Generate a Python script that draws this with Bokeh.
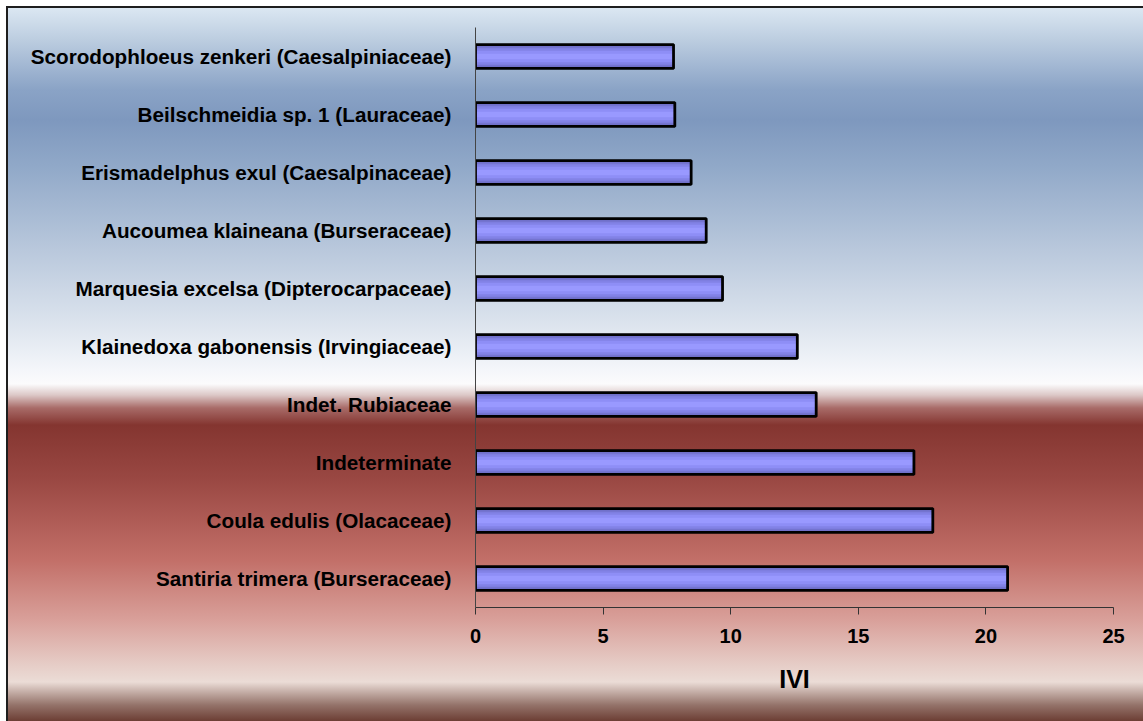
from bokeh.plotting import figure
from bokeh.models import ColumnDataSource, FixedTicker, Range1d, FactorRange
from bokeh.embed import file_html
from bokeh.resources import INLINE

# Importance Value Index (IVI) of the ten leading species
species = [
    "Santiria trimera (Burseraceae)",
    "Coula edulis (Olacaceae)",
    "Indeterminate",
    "Indet. Rubiaceae",
    "Klainedoxa gabonensis (Irvingiaceae)",
    "Marquesia excelsa (Dipterocarpaceae)",
    "Aucoumea klaineana (Burseraceae)",
    "Erismadelphus exul (Caesalpinaceae)",
    "Beilschmeidia sp. 1 (Lauraceae)",
    "Scorodophloeus zenkeri (Caesalpiniaceae)",
]
ivi = [20.85, 17.92, 17.18, 13.35, 12.61, 9.68, 9.04, 8.45, 7.81, 7.76]
x_ticks = [0, 5, 10, 15, 20, 25]
x_max = 25

W, H = 1143, 721
FONT = "Liberation Sans"

src = ColumnDataSource(dict(species=species, ivi=ivi))

# chart area backdrop: frame lines plus the banded blue / white / red fade
def stop(color, y):
    return f"{color} {y - 8}px"

fade = ", ".join([
    stop("#dbe7f2", 8), stop("#bccde0", 40), stop("#8aa3c6", 90),
    stop("#7e98be", 120), stop("#90a8c8", 165), stop("#b9c8dc", 250),
    stop("#dfe6ef", 330), stop("#f4f6fa", 370), stop("#fbfbfc", 384),
    stop("#dcc8c7", 395), stop("#a86b68", 408), stop("#843530", 425),
    stop("#9a4843", 480), stop("#c26f68", 560), stop("#d9a09a", 620),
    stop("#e6cdc7", 665), stop("#ebdcd6", 682), stop("#c8b2ab", 691),
    stop("#94736a", 705), stop("#6c3e34", 721),
])
backdrop = (
    ":host { background: "
    "linear-gradient(#1e1e1e, #1e1e1e) 6px 6px / 2px 715px no-repeat, "
    "linear-gradient(#1e1e1e, #1e1e1e) 6px 6px / 1137px 2px no-repeat, "
    f"linear-gradient(to bottom, {fade}) 8px 8px / 1135px 713px no-repeat, "
    "#ffffff; }"
)

p = figure(
    width=W, height=H,
    y_range=FactorRange(*species, range_padding=0),
    x_range=Range1d(0, x_max),
    output_backend="svg", toolbar_location=None,
    min_border_left=475, min_border_right=30,
    min_border_top=27, min_border_bottom=114,
)
p.stylesheets = [backdrop]
p.border_fill_color = None
p.background_fill_color = None
p.outline_line_color = None
p.grid.visible = False

# bars with a shaded body: darker edges, lighter core
bar_h = 0.41
layers = [
    (1.00, "#6464b4"),
    (0.86, "#7474d0"),
    (0.70, "#8282e6"),
    (0.48, "#8e8ef6"),
    (0.24, "#9999ff"),
]
for frac, col in layers:
    p.hbar(y="species", right="ivi", left=0, height=bar_h * frac,
           source=src, fill_color=col, line_color=None)
p.hbar(y="species", right="ivi", left=0, height=bar_h, source=src,
       fill_color=None, line_color="#000000", line_width=2.8)

# x axis
xa = p.xaxis[0]
xa.ticker = FixedTicker(ticks=x_ticks)
xa.axis_label = "IVI"
xa.axis_label_text_font = FONT
xa.axis_label_text_font_style = "bold"
xa.axis_label_text_font_size = "25px"
xa.axis_label_text_color = "#000000"
xa.axis_label_standoff = 19
xa.major_label_text_font = FONT
xa.major_label_text_font_style = "bold"
xa.major_label_text_font_size = "20px"
xa.major_label_text_color = "#000000"
xa.major_label_standoff = 14
xa.axis_line_color = "#333333"
xa.major_tick_line_color = "#333333"
xa.major_tick_out = 7
xa.major_tick_in = 0
xa.minor_tick_line_color = None

# y axis
ya = p.yaxis[0]
ya.major_label_text_font = FONT
ya.major_label_text_font_style = "bold"
ya.major_label_text_font_size = "20.7px"
ya.major_label_text_color = "#000000"
ya.major_label_standoff = 18
ya.axis_line_color = "#444444"
ya.major_tick_line_color = None
ya.minor_tick_line_color = None

open("out.html", "w").write(file_html(p, INLINE))
